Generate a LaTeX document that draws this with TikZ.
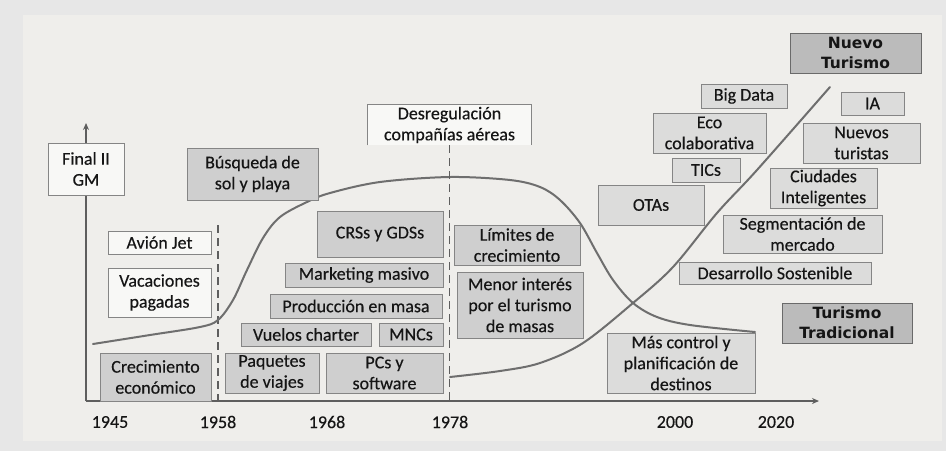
\documentclass[tikz,border=0pt]{standalone}
\usepackage{fontspec}
\setmainfont{Carlito}[FakeBold=0.35]
\newfontfamily\heavy{DejaVu Sans}
\usetikzlibrary{arrows.meta}
\definecolor{bgouter}{HTML}{E7E7E7}
\definecolor{panel}{HTML}{EFEEEB}
\definecolor{boxline}{HTML}{858585}
\definecolor{txt}{HTML}{151515}
\definecolor{fwhite}{HTML}{F8F8F6}
\definecolor{fmid}{HTML}{CFCFCF}
\definecolor{flight}{HTML}{DCDCDB}
\definecolor{fdark}{HTML}{BBBBBB}
\definecolor{curvec}{HTML}{6E6E6E}
\definecolor{axisc}{HTML}{5E5E5E}
\newcommand\bx[7]{\node[#6, minimum width={(#4-#2)*1pt}, minimum height={(#5-#3)*1pt}] (#1) at ({(#2+#4)/2},{(#3+#5)/2}) {#7};}
\begin{document}
\begin{tikzpicture}[x=1pt,y=-1pt,
  box/.style={draw=boxline, line width=0.9pt, inner sep=0pt, align=center, text=txt, font=\fontsize{18}{21}\selectfont},
  wbox/.style={box, fill=fwhite},
  mbox/.style={box, fill=fmid},
  lbox/.style={box, fill=flight},
  dbox/.style={box, fill=fdark, draw=boxline!80!black, font=\heavy\bfseries\fontsize{15.5}{20}\selectfont},
  year/.style={text=txt, font=\fontsize{18}{20}\selectfont, inner sep=0pt},
  axisline/.style={draw=axisc, line width=1.5pt},
  dashline/.style={draw=axisc, line width=1.8pt, dash pattern=on 8pt off 5pt},
  curveline/.style={draw=curvec, line width=2pt, line cap=round}
]
\useasboundingbox (0,0) rectangle (946,451);
\fill[bgouter] (0,0) rectangle (946,451);
\fill[panel] (23,15) rectangle (942,441);

% axes
\coordinate (origin) at (86,401);
\coordinate (ytip) at (86,123);
\coordinate (xtip) at (819,401);
\draw[axisline, -{Stealth[length=7pt,width=6pt]}] (origin) -- (ytip);
\draw[axisline, -{Stealth[length=7pt,width=6pt]}] (origin) -- (xtip);

% dashed period lines
\coordinate (d58top) at (218,225);
\coordinate (d58bot) at (218,401);
\draw[dashline] (d58top) -- (d58bot);

% curves
\draw[curveline] plot[smooth, tension=0.55] coordinates {
 (93,344) (150,335) (200,327) (218,320) (233,300) (247,270) (263,238) (280,217)
 (307,202) (330,193) (380,182) (450,177) (510,180) (540,187) (560,200) (580,223)
 (597,253) (613,280) (633,303) (657,317) (690,325) (755,332)};
\draw[curveline] plot[smooth, tension=0.55] coordinates {
 (450,377) (500,371) (540,363) (583,343) (633,303) (673,267) (717,213) (757,170) (830,87)};

% white boxes
\bx{final}{48}{143}{124}{195}{wbox}{Final II\\GM}
\bx{avion}{108}{231}{211}{254}{wbox}{Avión Jet}
\bx{vacaciones}{108}{268}{211}{317}{wbox}{Vacaciones\\pagadas}
\node[box, draw=none, fill=fwhite, minimum width=163pt, minimum height=40pt] (desreg) at (449.5,125) {Desregulación\\compañías aéreas};
\draw[draw=boxline, line width=0.9pt] (desreg.south west) |- (desreg.north east) -- (desreg.south east);
\coordinate (d78bot) at (449.5,401);
\draw[dashline] (desreg.south) -- (d78bot);

% mid grey boxes
\bx{busqueda}{187}{148}{318}{200}{mbox}{Búsqueda de\\sol y playa}
\bx{crecimiento}{100}{353}{211}{401}{mbox}{Crecimiento\\económico}
\bx{paquetes}{225}{353}{319}{393}{mbox}{Paquetes\\de viajes}
\bx{pcs}{326}{353}{443}{393}{mbox}{PCs y\\software}
\bx{vuelos}{241}{323}{371}{346}{mbox}{Vuelos charter}
\bx{mncs}{379}{323}{443}{346}{mbox}{MNCs}
\bx{produccion}{270}{294}{442}{318}{mbox}{Producción en masa}
\bx{marketing}{285}{263}{443}{287}{mbox}{Marketing masivo}
\bx{crss}{317}{211}{443}{257}{mbox}{CRSs y GDSs}
\bx{limites}{454}{225}{580}{265}{mbox}{Límites de\\crecimiento}
\bx{menor}{457}{272}{583}{338}{mbox}{Menor interés\\por el turismo\\de masas}

% light grey boxes
\bx{mas}{607}{333}{755}{393}{lbox}{Más control y\\planificación de\\destinos}
\bx{desarrollo}{679}{262}{871}{284}{lbox}{Desarrollo Sostenible}
\bx{segmentacion}{723}{215}{882}{253}{lbox}{Segmentación de\\mercado}
\bx{ciudades}{770}{168}{877}{208}{lbox}{Ciudades\\Inteligentes}
\bx{nuevos}{803}{123}{920}{163}{lbox}{Nuevos\\turistas}
\bx{ia}{841}{92}{904}{115}{lbox}{IA}
\bx{bigdata}{701}{84}{787}{108}{lbox}{Big Data}
\bx{eco}{653}{113}{766}{153}{lbox}{Eco\\colaborativa}
\bx{tics}{672}{158}{740}{182}{lbox}{TICs}
\bx{otas}{598}{185}{704}{225}{lbox}{OTAs}

% dark boxes
\bx{nuevo}{790}{33}{921}{73}{dbox}{Nuevo\\Turismo}
\bx{tradicional}{782}{303}{912}{343}{dbox}{Turismo\\Tradicional}

% years
\node[year] (y1945) at (110,422) {1945};
\node[year] (y1958) at (218,422) {1958};
\node[year] (y1968) at (327,422) {1968};
\node[year] (y1978) at (450,422) {1978};
\node[year] (y2000) at (675,422) {2000};
\node[year] (y2020) at (776,422) {2020};
\end{tikzpicture}
\end{document}
